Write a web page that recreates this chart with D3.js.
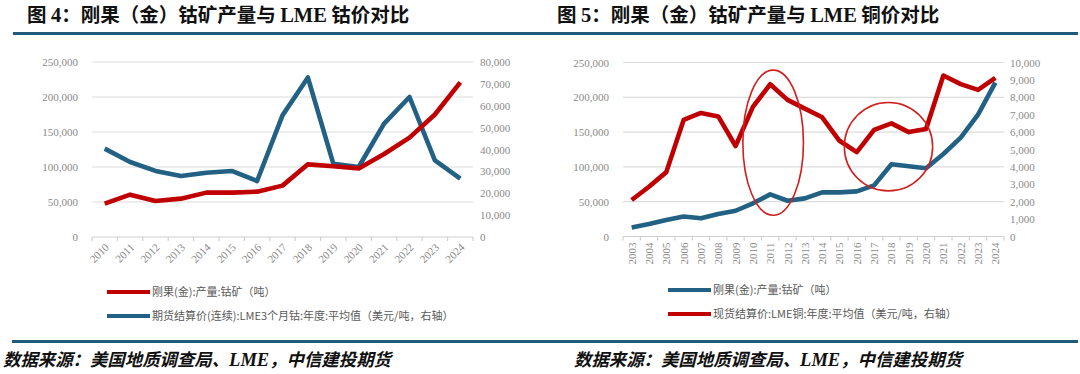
<!DOCTYPE html>
<html>
<head>
<meta charset="utf-8">
<script src="https://cdn.jsdelivr.net/npm/d3@7"></script>
<style>
  html, body { margin: 0; padding: 0; background: #fff; }
  svg { display: block; }
  .tick text { font-family: "Liberation Serif", "DejaVu Serif", serif; fill: #8a8a8a; }
</style>
</head>
<body>
<div id="chart"></div>
<script>
// chart 4: cobalt output vs LME cobalt price
var cobaltYears = ["2010", "2011", "2012", "2013", "2014", "2015", "2016", "2017",
  "2018", "2019", "2020", "2021", "2022", "2023", "2024"];
var drcOutputA = [47700, 60500, 51400, 54800, 63400, 63400, 64800, 73400,
  103800, 101000, 98000, 118500, 142000, 175000, 221000];
var lmeCobalt = [40400, 34300, 30200, 27900, 29400, 30200, 25600, 55600,
  72900, 33500, 32000, 51800, 64000, 35000, 26700];

// chart 5: cobalt output vs LME copper price
var copperYears = ["2003", "2004", "2005", "2006", "2007", "2008", "2009", "2010",
  "2011", "2012", "2013", "2014", "2015", "2016", "2017", "2018", "2019", "2020",
  "2021", "2022", "2023", "2024"];
var drcOutputB = [13000, 18000, 23800, 28800, 26100, 32300, 37000, 47700,
  60500, 51400, 54800, 63400, 63400, 64800, 73400, 103800, 101000, 98000,
  118500, 142000, 175000, 221000];
var lmeCopper = [2100, 2860, 3700, 6700, 7100, 6900, 5200, 7450,
  8750, 7850, 7350, 6850, 5500, 4850, 6130, 6500, 6000, 6180,
  9250, 8760, 8430, 9120];

// axis ticks
var outputTicks = [0, 50000, 100000, 150000, 200000, 250000];
var cobaltTicks = [0, 10000, 20000, 30000, 40000, 50000, 60000, 70000, 80000];
var copperTicks = [0, 1000, 2000, 3000, 4000, 5000, 6000, 7000, 8000, 9000, 10000];

// hand drawn circles on chart 5: [centre year, shift in bands, x radius in bands, centre price, y radius in price]
var circleMarks = [
  ["2011", 0.17, 1.75, 5390, 4170],
  ["2018", -0.17, 2.55, 5160, 2540]
];

var titles = [["图 ", "4", "：刚果（金）钴矿产量与 ", "LME", " 钴价对比"],
              ["图 ", "5", "：刚果（金）钴矿产量与 ", "LME", " 铜价对比"]];
var legendA = ["刚果(金):产量:钴矿（吨）", "期货结算价(连续):LME3个月钴:年度:平均值（美元/吨，右轴）"];
var legendB = ["刚果(金):产量:钴矿（吨）", "现货结算价:LME铜:年度:平均值（美元/吨，右轴）"];

var RED = "#c00000";
var BLUE = "#226184";
var BAR = "#1f5b7b";
var CJK = '"Noto Sans CJK SC", sans-serif';
var SERIF = '"Liberation Serif", serif';

var svg = d3.select("#chart")
  .append("svg")
  .attr("width", 1080)
  .attr("height", 374);

// top and bottom rules
svg.append("rect").attr("x", 13).attr("y", 32).attr("width", 1065).attr("height", 3).attr("fill", BAR);
svg.append("rect").attr("x", 12).attr("y", 340).attr("width", 1066).attr("height", 3).attr("fill", BAR);

// titles
[27, 557].forEach(function(tx, i) {
  var t = svg.append("text")
    .attr("x", tx)
    .attr("y", 22)
    .attr("font-size", "19.5px")
    .attr("font-weight", "bold")
    .attr("fill", "#111");
  titles[i].forEach(function(part, j) {
    t.append("tspan")
      .attr("font-family", (j == 1 || j == 3) ? SERIF : CJK)
      .attr("font-size", (j == 1 || j == 3) ? "20.5px" : "19.5px")
      .text(part);
  });
});

// source lines
[3, 574].forEach(function(sx) {
  var s = svg.append("text")
    .attr("x", sx)
    .attr("y", 366)
    .attr("font-size", "17.4px")
    .attr("font-weight", "bold")
    .attr("font-style", "italic")
    .attr("fill", "#111");
  s.append("tspan").attr("font-family", CJK).text("数据来源：美国地质调查局、");
  s.append("tspan").attr("font-family", SERIF).attr("font-size", "18.5px").text("LME");
  s.append("tspan").attr("font-family", CJK).text("，中信建投期货");
});

function drawChart(opt) {
  var x = d3.scaleBand()
    .domain(opt.years)
    .range([opt.x0, opt.x1])
    .paddingInner(0)
    .paddingOuter(0);

  var yL = d3.scaleLinear().domain([0, 250000]).range([opt.yBottom, opt.yTop]);
  var yR = d3.scaleLinear().domain([0, opt.rightMax]).range([opt.yBottom, opt.yTop]);

  var g = svg.append("g");

  // gridlines
  g.selectAll("line.grid")
    .data(outputTicks.slice(1))
    .enter()
    .append("line")
    .attr("class", "grid")
    .attr("x1", opt.x0)
    .attr("x2", opt.x1)
    .attr("y1", d => yL(d))
    .attr("y2", d => yL(d))
    .attr("stroke", "#dcdcdc")
    .attr("stroke-width", 1.2);

  // left axis
  var leftAxis = d3.axisLeft(yL).tickValues(outputTicks).tickSize(0).tickPadding(0).tickFormat(d3.format(","));
  g.append("g")
    .attr("transform", `translate(${opt.x0 - opt.leftGap}, 0)`)
    .call(leftAxis)
    .call(a => a.select(".domain").remove())
    .selectAll("text").attr("font-size", "11px");

  // right axis
  var rightAxis = d3.axisRight(yR).tickValues(opt.rightTicks).tickSize(0).tickPadding(0).tickFormat(d3.format(","));
  g.append("g")
    .attr("transform", `translate(${opt.x1 + opt.rightGap}, 0)`)
    .call(rightAxis)
    .call(a => a.select(".domain").remove())
    .selectAll("text").attr("font-size", "11px");

  // bottom axis line and ticks at category edges
  g.append("line")
    .attr("x1", opt.x0).attr("x2", opt.x1)
    .attr("y1", opt.yBottom).attr("y2", opt.yBottom)
    .attr("stroke", "#d0d0d0").attr("stroke-width", 1.2);
  var edges = opt.years.map(d => x(d)).concat([x(opt.years[opt.years.length - 1]) + x.bandwidth()]);
  g.selectAll("line.edge")
    .data(edges)
    .enter()
    .append("line")
    .attr("x1", d => d).attr("x2", d => d)
    .attr("y1", opt.yBottom).attr("y2", opt.yBottom + 4)
    .attr("stroke", "#d0d0d0").attr("stroke-width", 1.2);

  // category labels
  g.selectAll("text.cat")
    .data(opt.years)
    .enter()
    .append("text")
    .attr("class", "cat")
    .attr("transform", d => opt.vertical
      ? `translate(${x(d) + x.bandwidth() / 2 + 4}, ${opt.yBottom + 6}) rotate(-90)`
      : `translate(${x(d) + x.bandwidth() / 2 + 5}, ${opt.yBottom + 11}) rotate(-45)`)
    .attr("text-anchor", "end")
    .attr("font-family", SERIF)
    .attr("font-size", "11px")
    .attr("fill", "#8a8a8a")
    .text(d => d);

  var cx = d => x(d) + x.bandwidth() / 2;

  var lineL = d3.line()
    .x((d, i) => cx(opt.years[i]))
    .y(d => yL(d));
  var lineR = d3.line()
    .x((d, i) => cx(opt.years[i]))
    .y(d => yR(d));

  opt.order.forEach(function(which) {
    g.append("path")
      .datum(which == "left" ? opt.leftData : opt.rightData)
      .attr("d", which == "left" ? lineL : lineR)
      .attr("fill", "none")
      .attr("stroke", which == "left" ? opt.leftColor : opt.rightColor)
      .attr("stroke-width", 4.6)
      .attr("stroke-linejoin", "round");
  });

  // annotation circles
  if (opt.circles) {
    opt.circles.forEach(function(c) {
      g.append("ellipse")
        .attr("cx", cx(c[0]) + c[1] * x.step())
        .attr("cy", yR(c[3]))
        .attr("rx", c[2] * x.step())
        .attr("ry", yR(0) - yR(c[4]))
        .attr("fill", "none")
        .attr("stroke", "#d21f1f")
        .attr("stroke-width", 1.6);
    });
  }

  // legend
  [[opt.leftColor, opt.legend[0]], [opt.rightColor, opt.legend[1]]].forEach(function(item, i) {
    var ly = opt.legendY[i];
    g.append("line")
      .attr("x1", opt.legendX).attr("x2", opt.legendX + 43)
      .attr("y1", ly).attr("y2", ly)
      .attr("stroke", item[0]).attr("stroke-width", 4);
    g.append("text")
      .attr("x", opt.legendX + 45)
      .attr("y", ly)
      .attr("dy", "0.36em")
      .attr("font-family", CJK)
      .attr("font-size", "11px")
      .attr("fill", "#595959")
      .text(item[1]);
  });
}

drawChart({
  years: cobaltYears,
  x0: 92, x1: 473, yTop: 62, yBottom: 237,
  leftGap: 14, rightGap: 7,
  rightMax: 80000, rightTicks: cobaltTicks,
  leftData: drcOutputA, rightData: lmeCobalt,
  leftColor: RED, rightColor: BLUE,
  order: ["right", "left"],
  vertical: false,
  legend: legendA, legendX: 107, legendY: [292, 316]
});

drawChart({
  years: copperYears,
  x0: 623, x1: 1004, yTop: 62.5, yBottom: 236.5,
  leftGap: 14, rightGap: 6,
  rightMax: 10000, rightTicks: copperTicks,
  leftData: drcOutputB, rightData: lmeCopper,
  leftColor: BLUE, rightColor: RED,
  order: ["left", "right"],
  vertical: true,
  circles: circleMarks,
  legend: legendB, legendX: 668, legendY: [290, 314]
});
</script>
</body>
</html>
